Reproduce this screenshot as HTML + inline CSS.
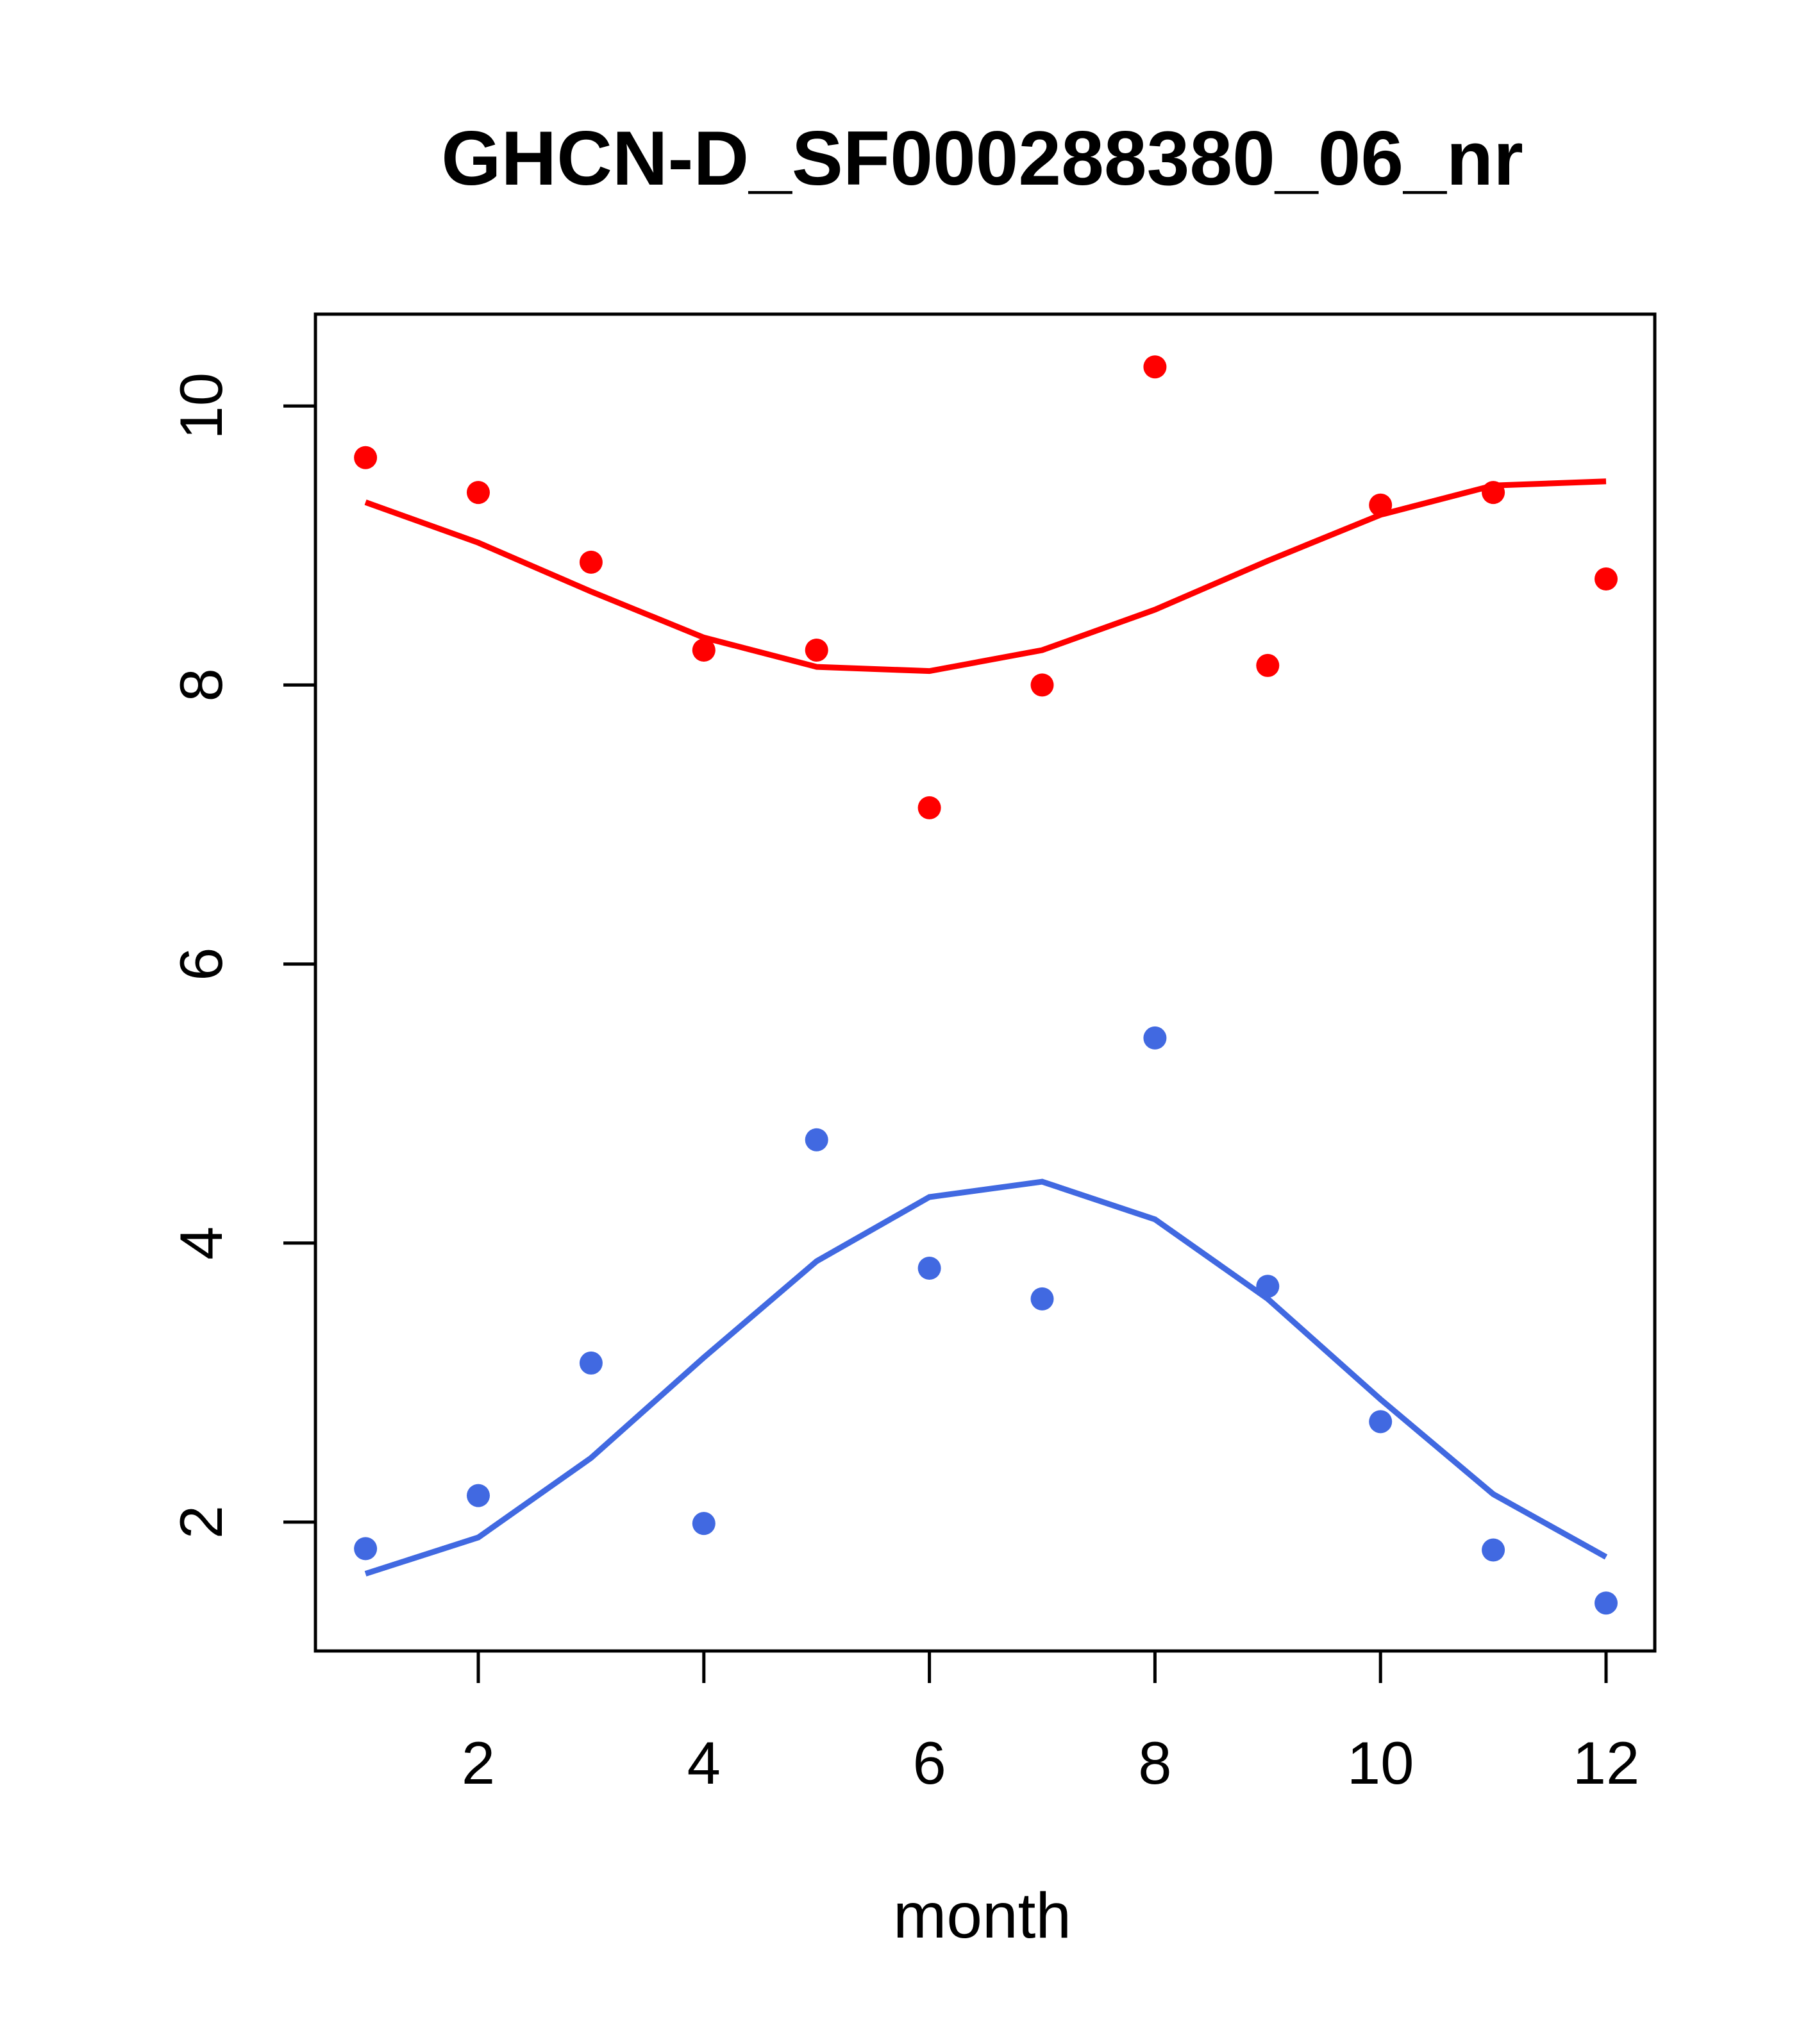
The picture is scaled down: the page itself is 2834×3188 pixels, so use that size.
<!DOCTYPE html>
<html><head><meta charset="utf-8"><style>
html,body{margin:0;padding:0;background:#fff}
svg{display:block}
text{font-family:"Liberation Sans",Arial,sans-serif;fill:#000}
</style></head><body>
<svg id="chart" width="2834" height="3188" viewBox="0 0 2834 3188" xmlns="http://www.w3.org/2000/svg">
<text x="1532" y="288" font-size="120" font-weight="bold" text-anchor="middle">GHCN-D_SF000288380_06_nr</text>
<rect x="492" y="490" width="2089" height="2085" fill="none" stroke="#000" stroke-width="5"/>
<g id="xaxis"></g>
<g id="yaxis"></g>
<text x="1532" y="3022" font-size="100" text-anchor="middle">month</text>
<g id="series"></g>
</svg>
<script>
const months=[1,2,3,4,5,6,7,8,9,10,11,12];
const redPoints=[9.63,9.38,8.88,8.25,8.25,7.12,8.0,10.28,8.14,9.29,9.38,8.76];
const redLine=[9.31,9.02,8.67,8.34,8.13,8.10,8.25,8.54,8.89,9.22,9.43,9.46];
const bluePoints=[1.81,2.19,3.14,1.99,4.74,3.82,3.60,5.47,3.69,2.72,1.80,1.42];
const blueLine=[1.63,1.89,2.46,3.18,3.87,4.33,4.44,4.17,3.60,2.88,2.20,1.75];
const xTicks=[2,4,6,8,10,12];
const yTicks=[2,4,6,8,10];
const NS="http://www.w3.org/2000/svg";
function X(v){return 746+(v-2)*175.9;}
function Y(v){return 2374-(v-2)*217.6;}
function mk(tag,attrs,parent){const e=document.createElementNS(NS,tag);for(const k in attrs)e.setAttribute(k,attrs[k]);parent.appendChild(e);return e;}
const xa=document.getElementById('xaxis'),ya=document.getElementById('yaxis'),sr=document.getElementById('series');
xTicks.forEach(t=>{
 const l=mk('line',{x1:X(t),x2:X(t),y1:2575,y2:2625,stroke:'#000','stroke-width':5},xa);
 
 
 const tx=mk('text',{x:X(t),y:2782,'font-size':94,'text-anchor':'middle'},xa);
 tx.textContent=t;
 
 
});
yTicks.forEach(t=>{
 const l=mk('line',{x1:442,x2:492,y1:Y(t),y2:Y(t),stroke:'#000','stroke-width':5},ya);
 
 
 const tx=mk('text',{x:346,y:Y(t),'font-size':94,'text-anchor':'middle',transform:`rotate(-90 346 ${Y(t)})`},ya);
 tx.textContent=t;
 
 
});
function series(pts,line,color,name){
 const p=mk('polyline',{points:months.map((m,i)=>X(m)+','+Y(line[i])).join(' '),fill:'none',stroke:color,'stroke-width':9},sr);
 
 
 months.forEach((m,i)=>{
  const c=mk('circle',{cx:X(m),cy:Y(pts[i]),r:18,fill:color},sr);
  
  
 });
}
series(redPoints,redLine,'#ff0000','max');
series(bluePoints,blueLine,'#4169e1','min');
</script>
</body></html>
